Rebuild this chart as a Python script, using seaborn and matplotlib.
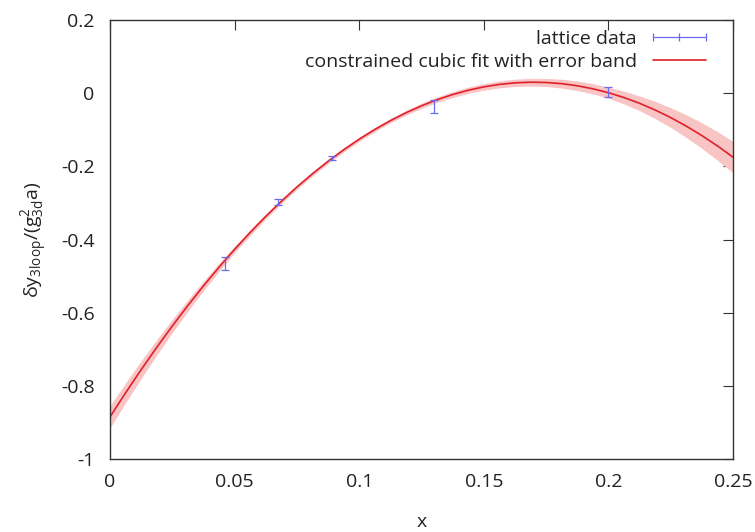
import numpy as np
import pandas as pd
import matplotlib
matplotlib.use("Agg")
import matplotlib.pyplot as plt
import seaborn as sns
from matplotlib.lines import Line2D

# lattice data
data_x = [0.046, 0.0674, 0.089, 0.13, 0.2]
data_y = [-0.466, -0.298, -0.177, -0.037, 0.003]
data_err = [0.017, 0.009, 0.006, 0.018, 0.014]

# fit curve
fit_x = [0.0, 0.00625, 0.0125, 0.01875, 0.025, 0.03125, 0.0375, 0.04375, 0.05, 0.05625,
         0.0625, 0.06875, 0.075, 0.08125, 0.0875, 0.09375, 0.1, 0.10625, 0.1125, 0.11875,
         0.125, 0.13125, 0.1375, 0.14375, 0.15, 0.15625, 0.1625, 0.16875, 0.175, 0.18125,
         0.1875, 0.19375, 0.2, 0.20625, 0.2125, 0.21875, 0.225, 0.23125, 0.2375, 0.24375, 0.25]
fit_y = [-0.885, -0.8192, -0.7558, -0.6949, -0.6364, -0.5804, -0.5268, -0.4757, -0.4270, -0.3807,
         -0.3369, -0.2956, -0.2567, -0.2203, -0.1864, -0.1549, -0.1259, -0.0993, -0.0752, -0.0536,
         -0.0345, -0.0178, -0.0037, 0.0080, 0.0172, 0.0240, 0.0282, 0.0300, 0.0292, 0.0260,
         0.0202, 0.0120, 0.0013, -0.0120, -0.0277, -0.0460, -0.0668, -0.0901, -0.1159, -0.1442, -0.1750]
fit_halfwidth = [0.030, 0.027, 0.024, 0.021, 0.018, 0.0155, 0.013, 0.011, 0.009, 0.008,
                 0.007, 0.0065, 0.006, 0.006, 0.006, 0.006, 0.006, 0.006, 0.006, 0.0065,
                 0.007, 0.0075, 0.008, 0.0085, 0.009, 0.0095, 0.010, 0.0105, 0.011, 0.012,
                 0.013, 0.014, 0.015, 0.0175, 0.020, 0.0235, 0.027, 0.031, 0.035, 0.039, 0.043]

x_ticks = [0, 0.05, 0.1, 0.15, 0.2, 0.25]
x_ticklabels = ["0", "0.05", "0.1", "0.15", "0.2", "0.25"]
y_ticks = [-1, -0.8, -0.6, -0.4, -0.2, 0, 0.2]
y_ticklabels = ["-1", "-0.8", "-0.6", "-0.4", "-0.2", "0", "0.2"]

sns.set_theme(style="white")
plt.rcParams["font.family"] = ["Open Sans", "DejaVu Sans"]
plt.rcParams["mathtext.fontset"] = "custom"
plt.rcParams["mathtext.rm"] = "Open Sans"
plt.rcParams["mathtext.it"] = "Open Sans"

fig = plt.figure(figsize=(7.55, 5.32), dpi=100)
ax = fig.add_axes([0.1457, 0.1372, 0.8252, 0.8252])

fit_df = pd.DataFrame({"x": fit_x, "y": fit_y})
lo = np.array(fit_y) - np.array(fit_halfwidth)
hi = np.array(fit_y) + np.array(fit_halfwidth)
ax.fill_between(fit_x, lo, hi, color="#f8c4c4", lw=0, zorder=1)
sns.lineplot(data=fit_df, x="x", y="y", ax=ax, color="#e0202a", lw=1.2, zorder=2)

blue = "#6a6af0"
ax.errorbar(data_x, data_y, yerr=data_err, fmt="none", ecolor=blue, elinewidth=0.9,
            capsize=3, capthick=0.9, zorder=3)

ax.set_xlim(0, 0.25)
ax.set_ylim(-1, 0.2)
ax.set_xticks(x_ticks)
ax.set_xticklabels(x_ticklabels)
ax.set_yticks(y_ticks)
ax.set_yticklabels(y_ticklabels)
ax.tick_params(direction="in", length=7, width=0.8, top=True, right=True,
               labelsize=14, colors="#333333")
ax.tick_params(axis="x", pad=10)
ax.tick_params(axis="y", pad=11)
ax.tick_params(axis="both", labelcolor="#222222")
for s in ax.spines.values():
    s.set_color("#333333")
    s.set_linewidth(1.0)

ax.set_xlabel("x", fontsize=14, color="#222222", labelpad=16)
ax.set_ylabel(r"$\mathrm{\delta y_{3loop}/(g^2_{3d}a)}$", fontsize=14, color="#222222", labelpad=8)

h1 = Line2D([], [], color=blue, lw=0.9, marker="|", markersize=6, markeredgewidth=0.9)
h2 = Line2D([], [], color="#e0202a", lw=1.2)
leg = ax.legend([h1, h2], ["lattice data", "constrained cubic fit with error band"],
                loc="upper right", bbox_to_anchor=(0.978, 0.995), frameon=False,
                markerfirst=False, numpoints=3, fontsize=14, handlelength=3.3,
                labelspacing=0.25, borderaxespad=0.0, handletextpad=0.55)
for t in leg.get_texts():
    t.set_color("#222222")

fig.savefig("out.png", dpi=100)
